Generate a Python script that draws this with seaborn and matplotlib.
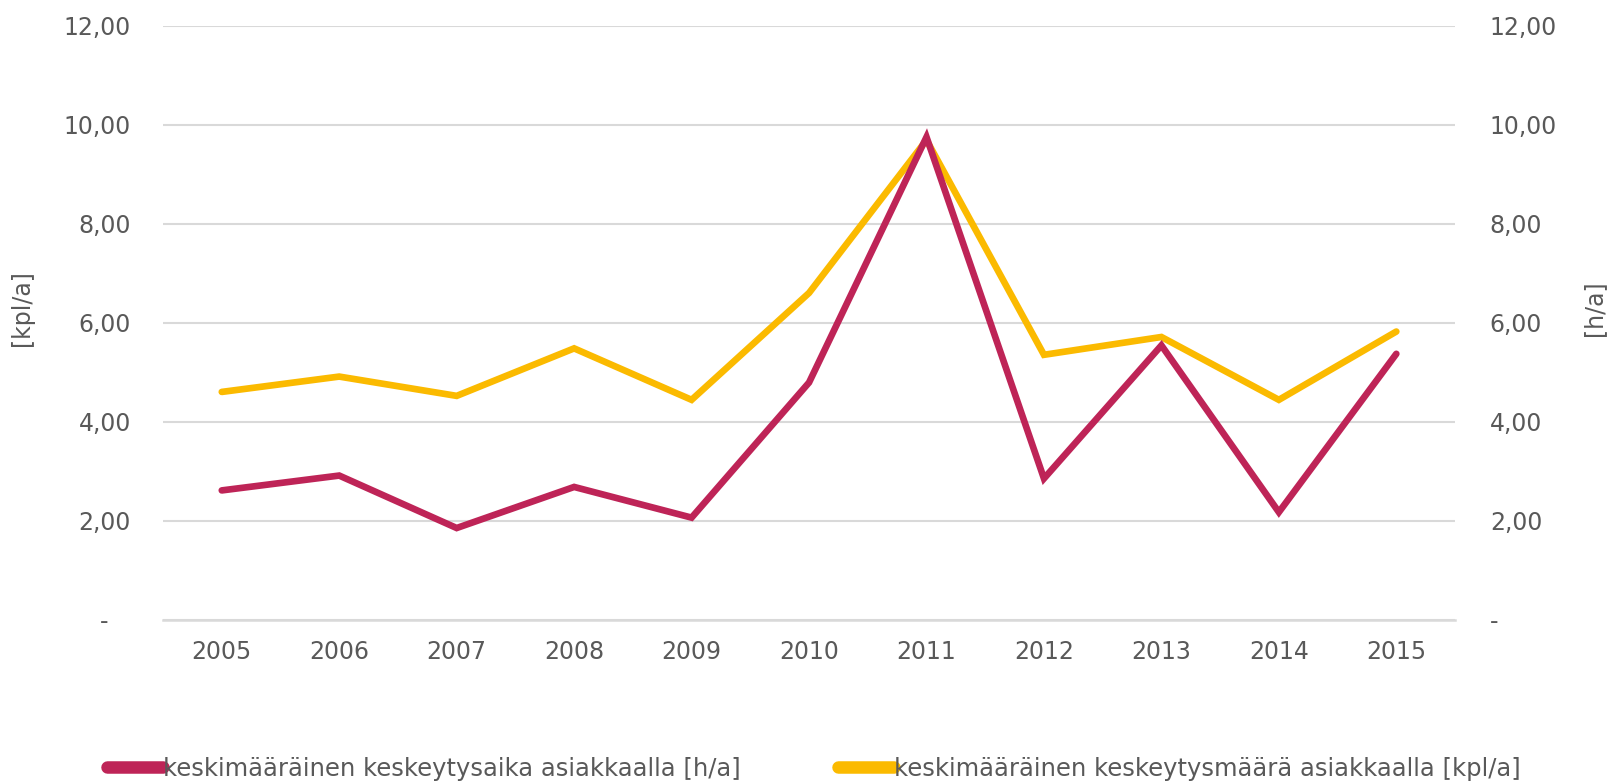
import numpy as np
import pandas as pd
import seaborn as sns
import matplotlib.pyplot as plt
from matplotlib.ticker import FuncFormatter, MultipleLocator, FixedLocator

# data
years = [2005, 2006, 2007, 2008, 2009, 2010, 2011, 2012, 2013, 2014, 2015]
aika_h = [2.61, 2.91, 1.85, 2.68, 2.06, 4.79, 9.75, 2.85, 5.54, 2.17, 5.37]
maara_kpl = [4.60, 4.91, 4.52, 5.48, 4.44, 6.60, 9.69, 5.35, 5.71, 4.44, 5.82]

lbl_aika = "keskimääräinen keskeytysaika asiakkaalla [h/a]"
lbl_maara = "keskimääräinen keskeytysmäärä asiakkaalla [kpl/a]"

crimson = "#BE2457"
yellow = "#FBBA00"
grey_txt = "#595959"
grid_col = "#D9D9D9"

sns.set_style("white")
plt.rcParams['font.family'] = ['DejaVu Sans']

df = pd.DataFrame({"vuosi": years, "aika": aika_h, "maara": maara_kpl})

fig = plt.figure(figsize=(16.11, 7.83), dpi=100)
ax = fig.add_axes([0.1012, 0.2087, 0.8020, 0.7585])
ax2 = ax.twinx()

sns.lineplot(data=df, x="vuosi", y="maara", ax=ax, color=yellow, lw=4.8,
             label=lbl_maara, legend=False, solid_capstyle="round", solid_joinstyle="miter")
sns.lineplot(data=df, x="vuosi", y="aika", ax=ax2, color=crimson, lw=4.8,
             label=lbl_aika, legend=False, solid_capstyle="round", solid_joinstyle="miter")

def fmt_left(v, pos):
    if abs(v) < 1e-9:
        return "-   "
    return f"{v:.2f}".replace(".", ",")

def fmt_right(v, pos):
    if abs(v) < 1e-9:
        return "-"
    return f"{v:.2f}".replace(".", ",")

for a in (ax, ax2):
    a.set_ylim(0, 12)
    a.yaxis.set_major_locator(MultipleLocator(2))
    a.set_xlim(2004.5, 2015.5)
    for s in a.spines.values():
        s.set_visible(False)
    a.tick_params(axis="y", length=0, labelsize=17, labelcolor=grey_txt)

ax.yaxis.set_major_formatter(FuncFormatter(fmt_left))
ax2.yaxis.set_major_formatter(FuncFormatter(fmt_right))
ax.tick_params(axis="y", pad=23)
ax2.tick_params(axis="y", pad=25)

ax.yaxis.grid(True, color=grid_col, lw=1.5)
ax.set_axisbelow(True)
ax.spines["bottom"].set_visible(True)
ax.spines["bottom"].set_color(grid_col)
ax.spines["bottom"].set_linewidth(1.8)

ax.set_xticks(years)
ax.set_xticklabels([str(y) for y in years])
ax.xaxis.set_minor_locator(FixedLocator(np.arange(2004.5, 2016, 1)))
ax.tick_params(axis="x", which="major", length=0, pad=15, labelsize=17, labelcolor=grey_txt)
ax.tick_params(axis="x", which="minor", length=8, width=1.2, color=grid_col, direction="out")
ax2.tick_params(axis="x", which="both", length=0)

ax.set_xlabel("")
ax.set_ylabel("[kpl/a]", fontsize=17, color=grey_txt)
ax2.set_ylabel("[h/a]", fontsize=17, color=grey_txt)
ax2.yaxis.set_label_position("right")
ax.yaxis.set_label_coords(-0.100, 0.525)
ax2.yaxis.set_label_coords(1.098, 0.525)

h1, l1 = ax2.get_legend_handles_labels()
h2, l2 = ax.get_legend_handles_labels()
leg = fig.legend(h1 + h2, l1 + l2, loc="center left", bbox_to_anchor=(0.053, 0.0185),
                 ncol=2, frameon=False, fontsize=17.5, handlelength=2.3, handletextpad=0.0,
                 columnspacing=4.0, labelcolor=grey_txt)
for line in leg.get_lines():
    line.set_linewidth(9)
    line.set_solid_capstyle("round")

fig.savefig("out.png", dpi=100)
